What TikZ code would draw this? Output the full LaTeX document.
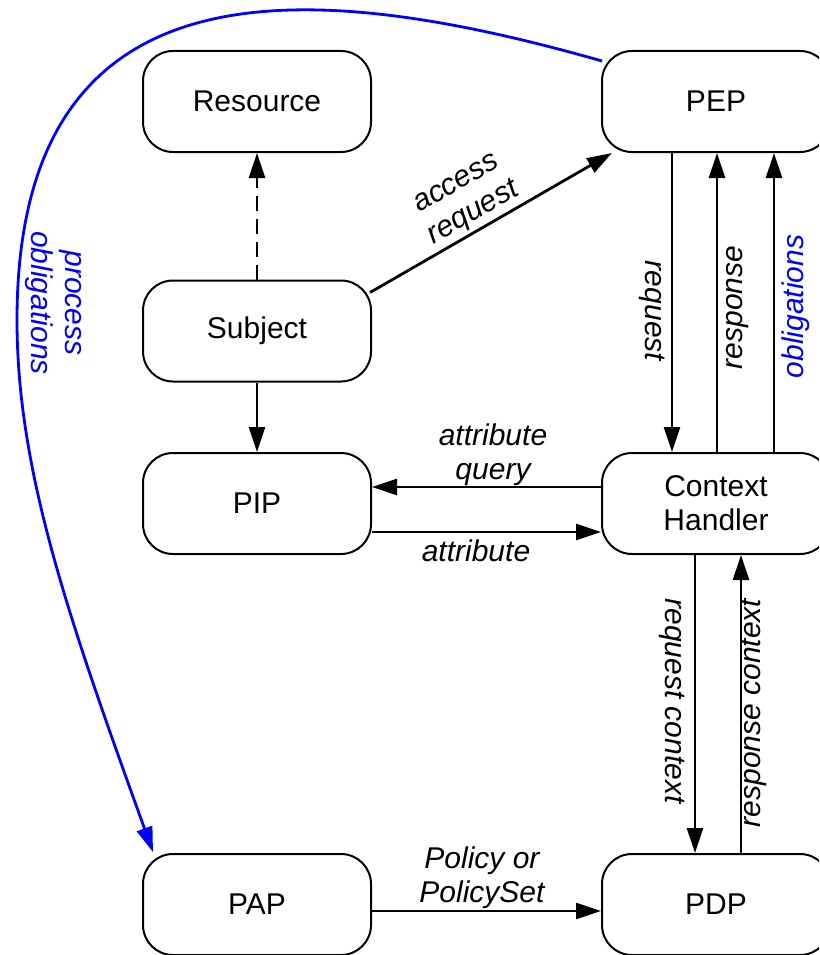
\documentclass[tikz,border=0pt]{standalone}
\usepackage{fontspec}
\setmainfont{Liberation Sans}
\usetikzlibrary{arrows.meta}
\begin{document}
\begin{tikzpicture}[x=1pt,y=-1pt,
  box/.style={draw, line width=2pt, rounded corners=30pt, minimum width=228pt,
    minimum height=101pt, inner sep=0pt, align=center,
    font=\fontsize{30}{34}\selectfont},
  flow/.style={line width=2.8pt, -{Triangle[length=25pt,width=16pt]}},
  lbl/.style={inner sep=0pt, align=center, font=\fontsize{30}{34}\selectfont\itshape},
  obl/.style={blue}]
\clip (0,0) rectangle (819,955);

% components
\node[box] (Resource) at (257,101.5) {Resource};
\node[box] (Subject)  at (257,331)   {Subject};
\node[box] (PIP)      at (257,503.5) {PIP};
\node[box] (PAP)      at (257,904.5) {PAP};
\node[box] (PEP)      at (716,101.5) {PEP};
\node[box] (CH)       at (716,503.5) {Context\\Handler};
\node[box] (PDP)      at (716,904.5) {PDP};

% message flows
\draw[flow, dash pattern=on 15pt off 8pt] (Subject.north) -- (Resource.south);
\draw[flow] (Subject.south) -- (PIP.north);
\draw[flow] ([xshift=-2pt,yshift=-13pt]Subject.north east) -- ([xshift=11pt]PEP.south west);
\draw[flow] ([xshift=-44pt]PEP.south) -- ([xshift=-44pt]CH.north);
\draw[flow] ([xshift=1pt]CH.north) -- ([xshift=1pt]PEP.south);
\draw[flow] ([xshift=58pt]CH.north) -- ([xshift=58pt]PEP.south);
\draw[flow] ([yshift=16.5pt]CH.west) -- ([yshift=16.5pt]PIP.east);
\draw[flow] ([yshift=-28.5pt]PIP.east) -- ([yshift=-28.5pt]CH.west);
\draw[flow] ([xshift=-21pt]CH.south) -- ([xshift=-21pt]PDP.north);
\draw[flow] ([xshift=25pt]PDP.north) -- ([xshift=25pt]CH.south);
\draw[flow] ([yshift=-6.5pt]PAP.east) -- ([yshift=-6.5pt]PDP.west);

% obligations handed back to the PAP
\coordinate (obS) at ([xshift=1pt,yshift=-11pt]PEP.north west);
\coordinate (obE) at ([xshift=11pt,yshift=1pt]PAP.north west);
\draw[flow, obl] (obS) .. controls (300,-25) and (17,-40) .. (17,320)
  .. controls (17,470) and (68,617) .. (obE);

% labels
\node[lbl, rotate=30] (lAccess) at (466,200) {access\\request};
\node[lbl, rotate=-90] (lReq) at (652,311) {request};
\node[lbl, rotate=90] (lResp) at (737.5,307.5) {response};
\node[lbl, rotate=90, obl] (lObl) at (796,306.5) {obligations};
\node[lbl] (lAQ) at (493,455) {attribute\\query};
\node[lbl] (lAttr) at (476,551) {attribute};
\node[lbl, rotate=-90] (lReqCtx) at (672,701) {request context};
\node[lbl, rotate=90] (lRespCtx) at (754,713) {response context};
\node[lbl] (lPol) at (482,877.5) {Policy or\\PolicySet};
\node[lbl, rotate=-90, obl] (lProc) at (53,303) {process\\obligations};
\end{tikzpicture}
\end{document}
